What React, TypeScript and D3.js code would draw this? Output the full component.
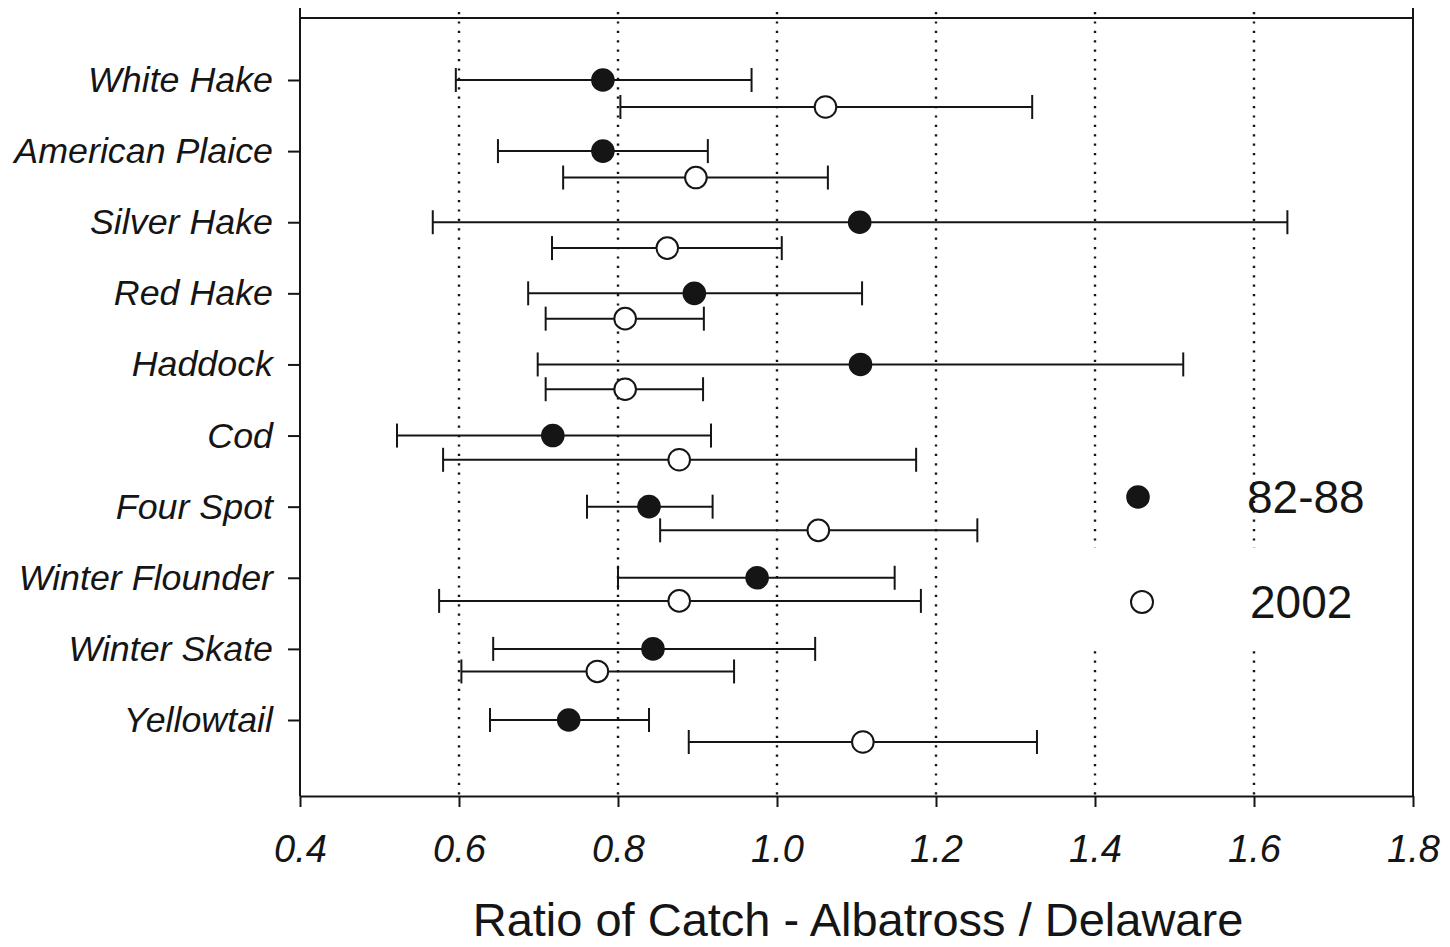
import React, {useRef, useEffect} from 'react'
import * as d3 from 'd3'

// species, top to bottom
const species = ["White Hake", "American Plaice", "Silver Hake", "Red Hake", "Haddock",
	"Cod", "Four Spot", "Winter Flounder", "Winter Skate", "Yellowtail"]

// 82-88 survey (filled)
const ratio8288 = [0.781, 0.781, 1.104, 0.896, 1.105, 0.718, 0.839, 0.975, 0.844, 0.738]
const lo8288 = [0.596, 0.649, 0.567, 0.687, 0.699, 0.522, 0.761, 0.800, 0.643, 0.639]
const hi8288 = [0.968, 0.913, 1.642, 1.107, 1.511, 0.917, 0.919, 1.148, 1.048, 0.839]

// 2002 survey (open)
const ratio2002 = [1.061, 0.898, 0.862, 0.809, 0.809, 0.877, 1.052, 0.877, 0.774, 1.108]
const lo2002 = [0.803, 0.731, 0.717, 0.709, 0.709, 0.580, 0.853, 0.575, 0.603, 0.889]
const hi2002 = [1.321, 1.064, 1.006, 0.908, 0.907, 1.175, 1.252, 1.181, 0.946, 1.327]

const xTicks = [0.4, 0.6, 0.8, 1.0, 1.2, 1.4, 1.6, 1.8]
const gridTicks = [0.6, 0.8, 1.0, 1.2, 1.4, 1.6]
const legendLabels = ["82-88", "2002"]

const layout = {width: 1450, height: 947, left: 300, right: 1413, top: 18, bottom: 796}
const ink = "#151515"
const font = "'Liberation Sans', Arial, Helvetica, sans-serif"

export default function App() {
	const ref = useRef(null)

	useEffect(() => {
		const svg = d3.select(ref.current)
		svg.selectAll("*").remove()

		const x = d3.scaleLinear().domain([0.4, 1.8]).range([layout.left, layout.right])
		// filled points sit on the tick, open ones a bit below
		const y = d3.scaleLinear().domain([0, 9]).range([80, 720])
		const y2 = d3.scaleLinear().domain([0, 9]).range([107, 742])

		// dotted reference lines
		svg.append("g").selectAll("line")
			.data(gridTicks)
			.join("line")
			.attr("x1", d => x(d)).attr("x2", d => x(d))
			.attr("y1", 12).attr("y2", layout.bottom)
			.attr("stroke", ink)
			.attr("stroke-width", 2.4)
			.attr("stroke-dasharray", "2.2 7.2")

		// white patch behind the second legend entry
		svg.append("rect")
			.attr("x", 1075).attr("y", 548)
			.attr("width", 325).attr("height", 102)
			.attr("fill", "white")

		// frame lines
		const frame = svg.append("g").attr("stroke", ink).attr("stroke-width", 2)
		frame.append("line").attr("x1", layout.left).attr("x2", layout.right)
			.attr("y1", layout.top).attr("y2", layout.top)
		frame.append("line").attr("x1", layout.left).attr("x2", layout.left)
			.attr("y1", 8).attr("y2", layout.bottom)
		frame.append("line").attr("x1", layout.right).attr("x2", layout.right)
			.attr("y1", 8).attr("y2", layout.bottom)

		const series = [
			{pt: ratio8288, lo: lo8288, hi: hi8288, y: y, fill: ink},
			{pt: ratio2002, lo: lo2002, hi: hi2002, y: y2, fill: "white"}
		]

		series.forEach(s => {
			const rows = species.map((name, i) => ({i, pt: s.pt[i], lo: s.lo[i], hi: s.hi[i]}))
			const g = svg.append("g")

			g.selectAll(".bar")
				.data(rows)
				.join("line")
				.attr("class", "bar")
				.attr("x1", d => x(d.lo)).attr("x2", d => x(d.hi))
				.attr("y1", d => s.y(d.i)).attr("y2", d => s.y(d.i))
				.attr("stroke", ink).attr("stroke-width", 2)

			g.selectAll(".cap")
				.data(rows.flatMap(d => [{i: d.i, v: d.lo}, {i: d.i, v: d.hi}]))
				.join("line")
				.attr("class", "cap")
				.attr("x1", d => x(d.v)).attr("x2", d => x(d.v))
				.attr("y1", d => s.y(d.i) - 12).attr("y2", d => s.y(d.i) + 12)
				.attr("stroke", ink).attr("stroke-width", 2)

			g.selectAll("circle")
				.data(rows)
				.join("circle")
				.attr("cx", d => x(d.pt))
				.attr("cy", d => s.y(d.i))
				.attr("r", s.fill === "white" ? 10.8 : 11.8)
				.attr("fill", s.fill)
				.attr("stroke", ink)
				.attr("stroke-width", s.fill === "white" ? 2 : 0)
		})

		// x axis
		svg.append("g")
			.attr("transform", `translate(0,${layout.bottom})`)
			.call(d3.axisBottom(x).tickValues(xTicks).tickFormat(d3.format(".1f"))
				.tickSize(11).tickSizeOuter(0).tickPadding(28))
			.call(g => g.select(".domain").attr("stroke", ink).attr("stroke-width", 2))
			.call(g => g.selectAll(".tick line").attr("stroke", ink).attr("stroke-width", 2))
			.call(g => g.selectAll(".tick text")
				.attr("fill", ink)
				.attr("font-family", font)
				.attr("font-style", "italic")
				.attr("font-size", 38))

		// y axis
		svg.append("g")
			.attr("transform", `translate(${layout.left},0)`)
			.call(d3.axisLeft(y).tickValues(d3.range(species.length)).tickFormat(i => species[i])
				.tickSize(12).tickSizeOuter(0).tickPadding(15))
			.call(g => g.select(".domain").remove())
			.call(g => g.selectAll(".tick line").attr("stroke", ink).attr("stroke-width", 2))
			.call(g => g.selectAll(".tick text")
				.attr("fill", ink)
				.attr("font-family", font)
				.attr("font-style", "italic")
				.attr("font-size", 35.8))

		// axis title
		svg.append("text")
			.attr("x", 858).attr("y", 936)
			.attr("text-anchor", "middle")
			.attr("font-family", font)
			.attr("font-size", 47)
			.attr("fill", ink)
			.text("Ratio of Catch - Albatross / Delaware")

		// legend
		const legend = svg.append("g")
		legend.append("circle").attr("cx", 1138).attr("cy", 497).attr("r", 11.8).attr("fill", ink)
		legend.append("circle").attr("cx", 1142).attr("cy", 602).attr("r", 11)
			.attr("fill", "white").attr("stroke", ink).attr("stroke-width", 2)
		legend.selectAll("text")
			.data(legendLabels)
			.join("text")
			.attr("x", (d, i) => i === 0 ? 1247 : 1250)
			.attr("y", (d, i) => i === 0 ? 513 : 618)
			.attr("font-family", font)
			.attr("font-size", 46)
			.attr("fill", ink)
			.text(d => d)
	}, [])

	return (
		<svg ref={ref} width={layout.width} height={layout.height}
			style={{position: "absolute", left: 0, top: 0, background: "white"}} />
	)
}
